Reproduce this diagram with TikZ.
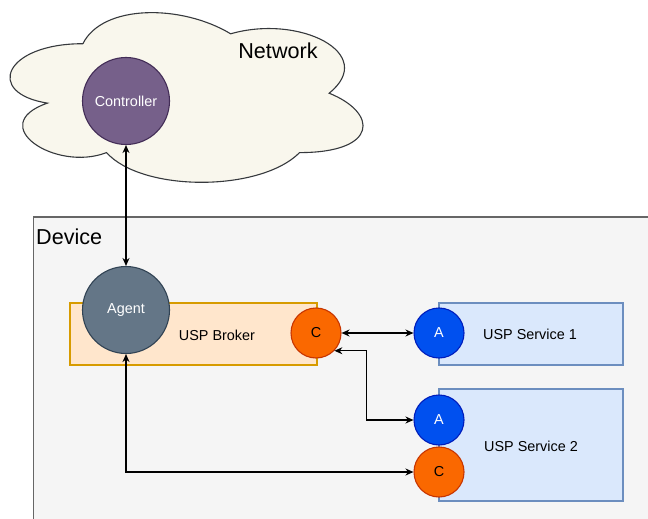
\documentclass[tikz,border=0pt]{standalone}
\usepackage{fontspec}
\setmainfont{Liberation Sans}
\usepackage{tikz}
\usetikzlibrary{arrows.meta}
\definecolor{cloudfill}{HTML}{F9F7ED}
\definecolor{clouddraw}{HTML}{36393D}
\definecolor{ctrlfill}{HTML}{76608A}
\definecolor{ctrldraw}{HTML}{432D57}
\definecolor{agentfill}{HTML}{647687}
\definecolor{agentdraw}{HTML}{314354}
\definecolor{cfill}{HTML}{FA6800}
\definecolor{cdraw}{HTML}{C73500}
\definecolor{afill}{HTML}{0050EF}
\definecolor{adraw}{HTML}{001DBC}
\definecolor{brokerfill}{HTML}{FFE6CC}
\definecolor{brokerdraw}{HTML}{D79B00}
\definecolor{svcfill}{HTML}{DAE8FC}
\definecolor{svcdraw}{HTML}{6C8EBF}
\definecolor{devfill}{HTML}{F5F5F5}
\definecolor{devdraw}{HTML}{666666}

\begin{document}
\begin{tikzpicture}[
   x=1pt, y=-1pt,
   small/.style={font=\fontsize{14.4}{17}\selectfont},
   big/.style={font=\fontsize{21.6}{25}\selectfont},
   bigcirc/.style={circle, line width=1.1, text=white, inner sep=0,
                   minimum size=87, small},
   endcirc/.style={circle, line width=1.1, inner sep=0, minimum size=50, small},
   cport/.style={endcirc, draw=cdraw, fill=cfill, text=black},
   aport/.style={endcirc, draw=adraw, fill=afill, text=white},
   broker/.style={rectangle, draw=brokerdraw, fill=brokerfill, line width=1.1,
                  inner sep=0, minimum width=247, minimum height=62},
   service/.style={rectangle, draw=svcdraw, fill=svcfill, line width=1.1,
                   inner sep=0, minimum width=184},
   link/.style={{Stealth[length=8,width=7]}-{Stealth[length=8,width=7]},
                line width=1.1}
  ]

  \clip (0, 0) rectangle (648, 519);
  \fill[white] (0, 0) rectangle (648, 519);

  % Network cloud
  \begin{scope}[shift={(-15.6, -5.8)}, x=394pt, y=-198pt]
    \draw[draw=clouddraw, fill=cloudfill, line width=1.1]
      (0.25, 0.25) .. controls (0.05, 0.25) and (0, 0.5) .. (0.16, 0.55)
      .. controls (0, 0.66) and (0.18, 0.9) .. (0.31, 0.8)
      .. controls (0.4, 1) and (0.7, 1) .. (0.8, 0.8)
      .. controls (1, 0.8) and (1, 0.6) .. (0.875, 0.5)
      .. controls (1, 0.3) and (0.8, 0.1) .. (0.625, 0.2)
      .. controls (0.5, 0.05) and (0.3, 0.05) .. cycle;
  \end{scope}
  \node (NetLbl) at (278, 51) [big] {Network};

  % Device
  \draw[draw=devdraw, fill=devfill, line width=1.1] (33.5, 217) rectangle (700, 560);
  \node (DevLbl) at (36, 237) [big, anchor=west, inner sep=0] {Device};

  \node (Broker) at (193.5, 334) [broker] {};
  \node (BrokerLbl) at (217, 335) [small] {USP Broker};

  \node (Svc1) at (531, 334) [service, minimum height=62] {};
  \node (Svc1Lbl) at (530, 334) [small] {USP Service 1};
  \node (Svc2) at (531, 445) [service, minimum height=112] {};
  \node (Svc2Lbl) at (531, 446) [small] {USP Service 2};

  \node (Controller) at (126, 101) [bigcirc, draw=ctrldraw, fill=ctrlfill] {Controller};
  \node (Agent) at (126, 310) [bigcirc, draw=agentdraw, fill=agentfill] {Agent};

  \node (C1) at (316, 333) [cport] {C};
  \node (A1) at (439, 333) [aport] {A};
  \node (A2) at (439, 420) [aport] {A};
  \node (C2) at (439, 472) [cport] {C};

  \draw[link] (Controller) -- (Agent);
  \draw[link] (C1) -- (A1);
  \draw[link] (C1.-44) -- ++(32, 0) |- (A2.west);
  \draw[link] (Agent.south) |- (C2.west);

\end{tikzpicture}
\end{document}
